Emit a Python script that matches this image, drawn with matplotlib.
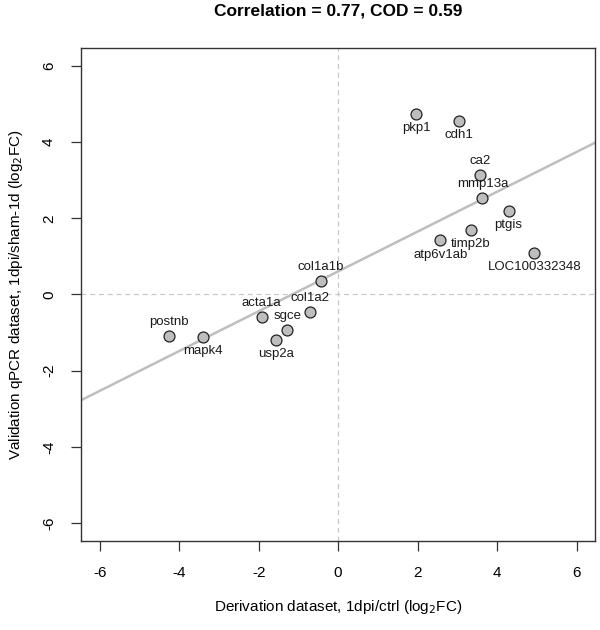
import numpy as np
import matplotlib
matplotlib.use("Agg")
import matplotlib.pyplot as plt

plt.rcParams['font.family'] = ['Liberation Sans', 'DejaVu Sans']

genes = ["pkp1", "cdh1", "ca2", "mmp13a", "ptgis", "timp2b", "atp6v1ab",
         "LOC100332348", "col1a1b", "col1a2", "acta1a", "sgce", "usp2a",
         "postnb", "mapk4"]
derivation = [1.96, 3.04, 3.58, 3.63, 4.29, 3.34, 2.57,
              4.94, -0.43, -0.71, -1.92, -1.28, -1.56,
              -4.25, -3.39]
validation = [4.75, 4.55, 3.13, 2.53, 2.18, 1.68, 1.42,
              1.09, 0.35, -0.47, -0.58, -0.93, -1.19,
              -1.09, -1.12]
label_side = ["below", "below", "above", "above", "below", "below", "below",
              "below", "above", "above", "above", "above", "below",
              "above", "below"]
ticks = [-6, -4, -2, 0, 2, 4, 6]
title = "Correlation = 0.77, COD = 0.59"

fig = plt.figure(figsize=(6, 6.3), dpi=100)
ax = fig.add_axes([0.135, 0.1413, 0.857, 0.7825])

lim = 6.47
ax.set_xlim(-lim, lim)
ax.set_ylim(-lim, lim)

ax.axvline(0, color='#c8c8c8', lw=0.9, ls=(0, (4, 3)), zorder=1)
ax.axhline(0, color='#c8c8c8', lw=0.9, ls=(0, (4, 3)), zorder=1)

x = np.array(derivation)
y = np.array(validation)
slope, intercept = np.polyfit(x, y, 1)
xx = np.array([-lim, lim])
ax.plot(xx, intercept + slope * xx, color='#bebebe', lw=1.8, zorder=2)

ax.scatter(x, y, s=62, facecolor='#bebebe', edgecolor='#222222', linewidths=0.9, zorder=3)

for g, xi, yi, side in zip(genes, x, y, label_side):
    dy = -14 if side == "below" else 14
    if g == "atp6v1ab":
        dy = -15
    ax.annotate(g, (xi, yi), xytext=(0, dy), textcoords='offset pixels',
                ha='center', va='center', fontsize=9.5, color='#1a1a1a', zorder=4)

ax.set_xticks(ticks)
ax.set_yticks(ticks)
ax.set_xticklabels([str(t) for t in ticks])
ax.set_yticklabels([str(t) for t in ticks], rotation=90, va='center')
ax.tick_params(axis='both', direction='out', length=7, width=0.9, labelsize=11, pad=11, color='#333333')
for sp in ax.spines.values():
    sp.set_color('#333333')
    sp.set_linewidth(1.0)

ax.set_xlabel("Derivation dataset, 1dpi/ctrl (log$_2$FC)", fontsize=11, labelpad=13)
ax.set_ylabel("Validation qPCR dataset, 1dpi/sham-1d (log$_2$FC)", fontsize=11, labelpad=12)
fig.text(0.5633, 1 - 11 / 630, title, ha='center', va='center', fontsize=12.5, fontweight='bold')

fig.savefig("out.png", dpi=100)
